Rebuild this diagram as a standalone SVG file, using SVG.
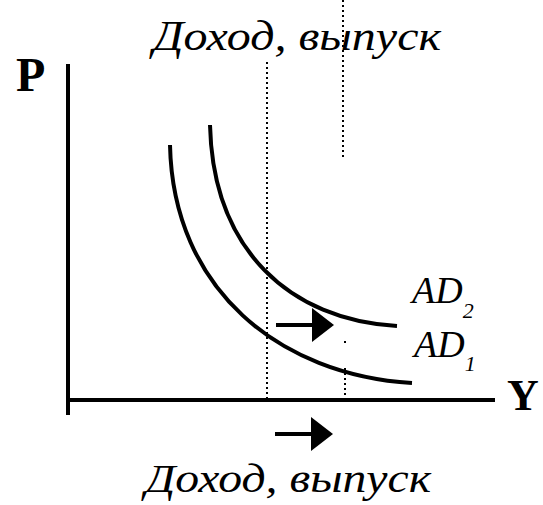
<svg xmlns="http://www.w3.org/2000/svg" width="543" height="505" viewBox="0 0 543 505">
<style>
.lbl{font-family:"Liberation Serif","Times New Roman",serif;font-style:italic;fill:#000}
.ax{font-family:"Liberation Serif","Times New Roman",serif;font-weight:bold;fill:#000}
.axis{stroke:#000;stroke-width:4;fill:none}
.curve{stroke:#000;stroke-width:4;fill:none}
.dot{stroke:#000;stroke-width:2;stroke-dasharray:2 3;fill:none}
.arr{stroke:#000;stroke-width:4;fill:none}
</style>
<defs>
<marker id="ah" viewBox="0 0 22 34" refX="1" refY="17" markerWidth="22" markerHeight="34" markerUnits="userSpaceOnUse" orient="auto">
<path d="M0,0 L22,17 L0,34 Z" fill="#000"/>
</marker>
</defs>
<rect width="543" height="505" fill="#fff"/>
<g id="connectors">
<line class="dot" x1="267" y1="62" x2="267" y2="400"/>
<line class="dot" x1="343" y1="0" x2="343" y2="158"/>
<line class="dot" x1="345" y1="368" x2="345" y2="400"/>
<line class="dot" x1="345" y1="341" x2="345" y2="344"/>
<line class="axis" x1="68" y1="64" x2="68" y2="415"/>
<line class="axis" x1="66" y1="400" x2="495" y2="400"/>
<path class="curve" d="M170,145 C173,290 280,375 412,383"/>
<path class="curve" d="M210,125 C213,250 290,320 397,326"/>
<line class="arr" x1="276" y1="325" x2="313" y2="325" marker-end="url(#ah)"/>
<line class="arr" x1="275" y1="434" x2="312" y2="434" marker-end="url(#ah)"/>
</g>
<g id="top-label"><text class="lbl" x="153" y="50" font-size="42" textLength="288" lengthAdjust="spacingAndGlyphs">Доход, выпуск</text></g>
<g id="bottom-label"><text class="lbl" x="145" y="492" font-size="40" textLength="286" lengthAdjust="spacingAndGlyphs">Доход, выпуск</text></g>
<g id="P"><text class="ax" x="16" y="91" font-size="48">P</text></g>
<g id="Y"><text class="ax" x="507" y="410" font-size="44">Y</text></g>
<g id="AD2"><text class="lbl" x="412" y="303" font-size="38">AD<tspan font-size="22" dy="15">2</tspan></text></g>
<g id="AD1"><text class="lbl" x="414" y="357" font-size="38">AD<tspan font-size="22" dy="14">1</tspan></text></g>
</svg>
